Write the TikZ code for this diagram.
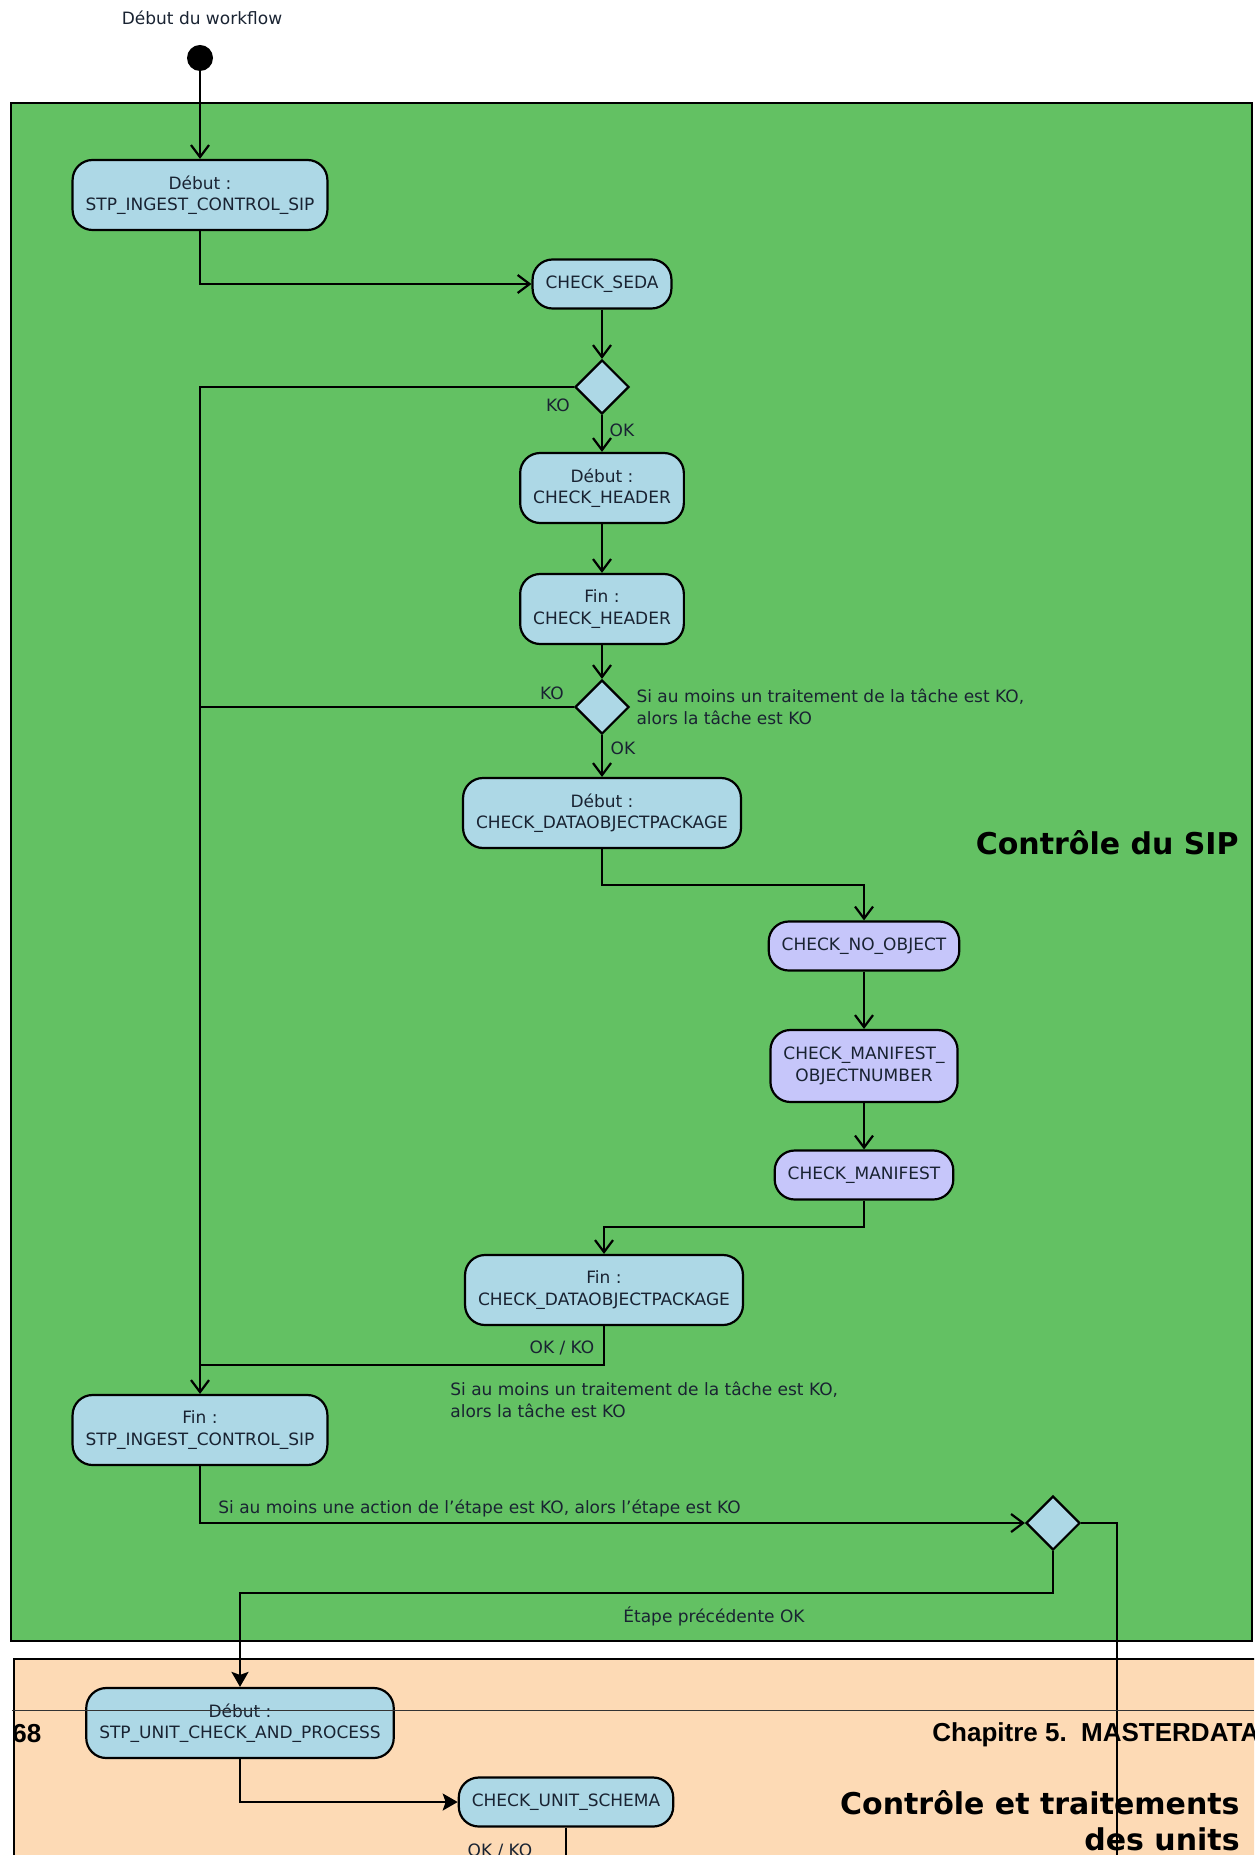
\documentclass[tikz,border=0pt]{standalone}
\usepackage{fontspec}
\setmainfont{DejaVu Sans}
\newfontfamily\pagefont{Liberation Sans}
\usetikzlibrary
  {
    arrows.meta,      % open and filled arrow heads
    shapes.geometric, % diamond decision nodes
    positioning,      % place nodes relative to other nodes
  }
\definecolor{sipgreen}{RGB}{99,193,99}
\definecolor{unitpeach}{RGB}{253,218,181}
\definecolor{actblue}{RGB}{173,216,230}
\definecolor{sublav}{RGB}{198,198,250}
\definecolor{acttext}{RGB}{25,35,50}

\begin{document}
\begin{tikzpicture}[x=0.5pt,y=-0.5pt,
    every node/.style={font=\fontsize{8.5}{10.75}\selectfont},
    act/.style={draw, line width=1.1pt, rounded corners=10pt, fill=actblue,
                text=acttext, inner xsep=6.5pt, minimum height=24.5pt, align=center},
    act2/.style={act, minimum height=35pt},
    sub/.style={act, fill=sublav},
    decision/.style={draw, line width=1.1pt, diamond, fill=actblue, inner sep=0pt,
                     minimum width=27pt, minimum height=27pt},
    flow/.style={line width=1.1pt, -{Straight Barb[length=6pt,width=9pt]}},
    flowfill/.style={line width=1.1pt, -{Stealth[length=7.5pt,width=8.5pt,inset=1.5pt]}},
    link/.style={line width=1.1pt},
    lbl/.style={inner sep=0pt, text=acttext},
    zone/.style={draw, line width=1.1pt},
    title/.style={font=\fontsize{15}{18}\selectfont\bfseries, inner sep=0pt, align=right},
    pagehead/.style={font=\pagefont\fontsize{13}{15}\selectfont\bfseries, inner sep=0pt},
  ]
    \useasboundingbox (0,0) rectangle (1254,1855);
    \fill[white] (0,0) rectangle (1254,1855);
    \clip (0,0) rectangle (1254,1855);

    % swimlanes
    \draw[zone, fill=sipgreen] (11,103) rectangle (1252,1641);
    \draw[zone, fill=unitpeach] (14,1659) rectangle (1290,1900);
    \node[title, anchor=east] (siptitle) at (1239,843) {Contrôle du SIP};
    \node[title, anchor=east] (unittitle) at (1240,1821) {Contrôle et traitements\\des units};
    \node[pagehead, anchor=base west] (pagenum) at (12,1742) {68};
    \node[pagehead, anchor=base west] (chapter) at (932,1741) {Chapitre 5.\ \ MASTERDATA};

    % actions
    \node[lbl] (wfstart) at (202,18) {Début du workflow};
    \node[circle, fill=black, minimum size=13pt, inner sep=0pt] (startdot) at (200,58) {};
    \node[act2] (stpdeb) at (200,195) {Début :\\STP\_INGEST\_CONTROL\_SIP};
    \node[act] (seda) at (602,284) {CHECK\_SEDA};
    \node[decision] (dec1) at (602,387) {};
    \node[act2] (hdrdeb) at (602,488) {Début :\\CHECK\_HEADER};
    \node[act2] (hdrfin) at (602,609) {Fin :\\CHECK\_HEADER};
    \node[decision] (dec2) at (602,707) {};
    \node[act2] (dopdeb) at (602,813) {Début :\\CHECK\_DATAOBJECTPACKAGE};
    \node[sub] (noobj) at (864,946) {CHECK\_NO\_OBJECT};
    \node[sub, minimum height=36pt] (manobj) at (864,1066) {CHECK\_MANIFEST\_\\OBJECTNUMBER};
    \node[sub] (manif) at (864,1175) {CHECK\_MANIFEST};
    \node[act2] (dopfin) at (604,1290) {Fin :\\CHECK\_DATAOBJECTPACKAGE};
    \node[act2] (stpfin) at (200,1430) {Fin :\\STP\_INGEST\_CONTROL\_SIP};
    \node[decision] (dec3) at (1053,1523) {};
    \node[act2] (unitdeb) at (240,1723) {Début :\\STP\_UNIT\_CHECK\_AND\_PROCESS};
    \node[act] (unitschema) at (566,1802) {CHECK\_UNIT\_SCHEMA};

    % guards and notes
    \node[lbl] (koA) at (558,405) {KO};
    \node[lbl] (okA) at (622,430) {OK};
    \node[lbl] (koB) at (552,693) {KO};
    \node[lbl, align=left, right=3pt of dec2.east] (ruleB)
      {Si au moins un traitement de la tâche est KO,\\alors la tâche est KO};
    \node[lbl] (okB) at (623,748) {OK};
    \node[lbl] (okkoA) at (562,1348) {OK / KO};
    \node[lbl, align=left, anchor=west] (ruleC) at (450,1400)
      {Si au moins un traitement de la tâche est KO,\\alors la tâche est KO};
    \node[lbl, anchor=west] (ruleD) at (218,1508)
      {Si au moins une action de l'étape est KO, alors l'étape est KO};
    \node[lbl] (prevok) at (714,1616) {Étape précédente OK};
    \node[lbl] (okkoB) at (500,1851) {OK / KO};

    % flows
    \draw[flow] (startdot) -- (stpdeb);
    \draw[flow] (stpdeb.south) |- (seda.west);
    \draw[flow] (seda) -- (dec1);
    \draw[flow] (dec1) -- (hdrdeb);
    \draw[flow] (hdrdeb) -- (hdrfin);
    \draw[flow] (hdrfin) -- (dec2);
    \draw[flow] (dec2) -- (dopdeb);
    \draw[flow] (dopdeb.south) -- ++(0,36) -| (noobj.north);
    \draw[flow] (noobj) -- (manobj);
    \draw[flow] (manobj) -- (manif);
    \draw[flow] (manif.south) -- ++(0,26) -| (dopfin.north);
    % KO branches join the end of the step
    \draw[flow] (dec1.west) -| (stpfin.north);
    \draw[link] (dec2.west) -- (dec2.west -| stpfin.north);
    \coordinate (joinko) at (200,1365);
    \draw[link] (dopfin.south) |- (joinko);
    \draw[flow] (stpfin.south) |- (dec3.west);
    \coordinate (kodown) at (1117,1900);
    \draw[link] (dec3.east) -| (kodown);
    \draw[flowfill] (dec3.south) -- ++(0,42) -| (unitdeb.north);
    \draw[flowfill] (unitdeb.south) |- (unitschema.west);
    \coordinate (unitout) at (566,1900);
    \draw[link] (unitschema.south) -- (unitout);

    % page rule
    \draw[line width=0.5pt, black!80] (12,1710) -- (1254,1710);
\end{tikzpicture}
\end{document}
